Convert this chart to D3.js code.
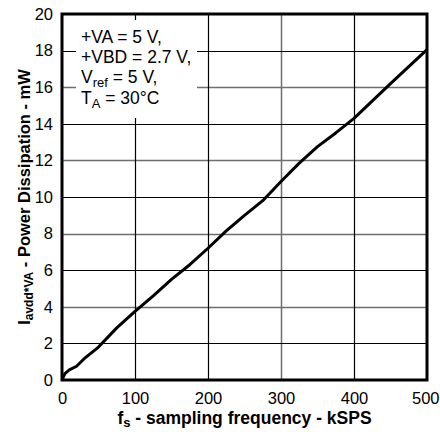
<!DOCTYPE html>
<html><head><meta charset="utf-8">
<script src="https://cdn.jsdelivr.net/npm/d3@7"></script>
<style>html,body{margin:0;padding:0;background:#fff;}svg{display:block;font-family:"Liberation Sans",Arial,sans-serif;}</style>
</head><body>
<svg id="c" width="440" height="432"></svg>
<script>
// Data
const freq = [0, 4, 10, 20, 30, 50, 75, 100, 125, 150, 175, 200, 225, 250, 275, 300, 325, 350, 375, 400, 450, 500];
const power = [0, 0.35, 0.55, 0.75, 1.15, 1.8, 2.85, 3.75, 4.6, 5.5, 6.3, 7.2, 8.15, 9.0, 9.8, 10.85, 11.85, 12.75, 13.5, 14.3, 16.2, 18.05];
const xTicks = [0, 100, 200, 300, 400, 500];
const yTicks = [0, 2, 4, 6, 8, 10, 12, 14, 16, 18, 20];
const gridXBlack = [100, 200, 400];
const gridXGray = [300];
const gridYBlack = [2, 6, 10, 14, 18];
const gridYGray = [4, 8, 12, 16];

const svg = d3.select("#c");
const L = 62, R = 427, T = 14, B = 380;
const x = d3.scaleLinear().domain([0, 500]).range([L, R]);
const y = d3.scaleLinear().domain([0, 20]).range([B, T]);

function gridPath(xs, ys) {
  const p = d3.path();
  xs.forEach(v => { p.moveTo(Math.round(x(v)) + 0.5, T); p.lineTo(Math.round(x(v)) + 0.5, B); });
  ys.forEach(v => { p.moveTo(L, Math.round(y(v)) + 0.5); p.lineTo(R, Math.round(y(v)) + 0.5); });
  return p.toString();
}
const grid = svg.append("g").attr("class", "grid");
grid.append("path").attr("d", gridPath(gridXGray, gridYGray))
  .attr("fill", "none").attr("stroke", "#6e6e6e").attr("stroke-width", 1.5);
grid.append("path").attr("d", gridPath(gridXBlack, gridYBlack))
  .attr("fill", "none").attr("stroke", "#000000").attr("stroke-width", 1.2);
// annotation box background
grid.append("rect").attr("x", 76).attr("y", 20).attr("width", 121).attr("height", 98).attr("fill", "#ffffff");

// curve
const line = d3.line().x((d, i) => x(freq[i])).y(d => y(d));
svg.append("path").datum(power).attr("d", line).attr("fill", "none")
  .attr("stroke", "#000").attr("stroke-width", 3).attr("stroke-linejoin", "round");

// frame
svg.append("rect").attr("x", L).attr("y", T).attr("width", R - L).attr("height", B - T)
  .attr("fill", "none").attr("stroke", "#000").attr("stroke-width", 3);

const ann = svg.append("g").attr("font-size", 17.5).attr("fill", "#000");
ann.append("text").attr("x", 81).attr("y", 43).text("+VA = 5 V,");
ann.append("text").attr("x", 81).attr("y", 63).text("+VBD = 2.7 V,");
const t3 = ann.append("text").attr("x", 81).attr("y", 83);
t3.append("tspan").text("V");
t3.append("tspan").attr("dy", 4).attr("font-size", 13).text("ref");
t3.append("tspan").attr("dy", -4).text(" = 5 V,");
const t4 = ann.append("text").attr("x", 81).attr("y", 104);
t4.append("tspan").text("T");
t4.append("tspan").attr("dy", 4).attr("font-size", 13).text("A");
t4.append("tspan").attr("dy", -4).text(" = 30°C");

// axes tick labels
const xa = d3.axisBottom(x).tickValues(xTicks).tickSize(0).tickPadding(12);
svg.append("g").attr("transform", `translate(0,${B})`).call(xa)
  .call(s => s.select(".domain").remove())
  .selectAll("text").attr("font-size", 16.5).attr("fill", "#000").attr("font-family", "Liberation Sans, Arial, sans-serif")
  .attr("text-anchor", d => d === 500 ? "end" : "middle").attr("dx", d => d === 500 ? 12 : 0);
const ya = d3.axisLeft(y).tickValues(yTicks).tickSize(0).tickPadding(9);
svg.append("g").attr("transform", `translate(${L},0)`).call(ya)
  .call(s => s.select(".domain").remove())
  .selectAll("text").attr("font-size", 16.5).attr("fill", "#000").attr("font-family", "Liberation Sans, Arial, sans-serif");

// axis titles
const xt = svg.append("text").attr("x", (L + R) / 2).attr("y", 424).attr("text-anchor", "middle")
  .attr("font-weight", "bold").attr("font-size", 17.5);
xt.append("tspan").text("f");
xt.append("tspan").attr("dy", 3).attr("font-size", 13).text("s");
xt.append("tspan").attr("dy", -3).text(" - sampling frequency - kSPS");

const yt = svg.append("text").attr("transform", `translate(30,${(T + B) / 2}) rotate(-90)`)
  .attr("text-anchor", "middle").attr("font-weight", "bold").attr("font-size", 16.5);
yt.append("tspan").text("I");
yt.append("tspan").attr("dy", 3).attr("font-size", 12).text("avdd*VA");
yt.append("tspan").attr("dy", -3).text(" - Power Dissipation - mW");
</script>
</body></html>
